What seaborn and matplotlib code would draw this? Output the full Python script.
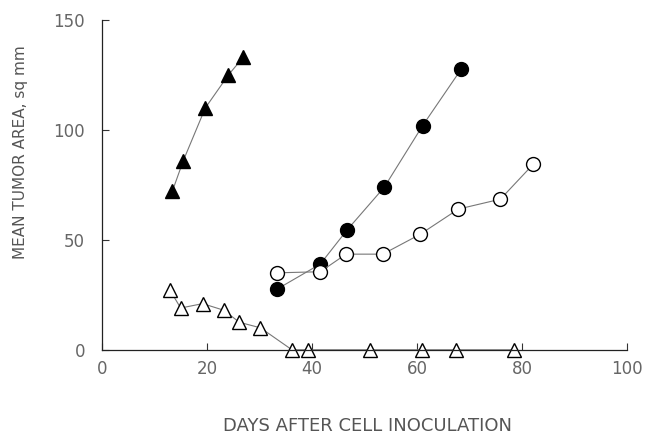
import pandas as pd
import seaborn as sns
from matplotlib import pyplot as plt

filled_tri_days = [13.4, 15.5, 19.7, 24.1, 26.9]
filled_tri_area = [72, 86, 110, 125, 133]

open_tri_days = [13.0, 15.0, 19.2, 23.2, 26.2, 30.2, 36.2, 39.2, 51.1, 61.0, 67.5, 78.5]
open_tri_area = [27, 19, 21, 18, 12.5, 10, 0, 0, 0, 0, 0, 0]

filled_circ_days = [33.3, 41.6, 46.7, 53.8, 61.1, 68.4]
filled_circ_area = [27.5, 39, 54.5, 74, 102, 127.5]

open_circ_days = [33.3, 41.6, 46.5, 53.5, 60.6, 67.9, 75.9, 82.2]
open_circ_area = [35, 35.5, 43.5, 43.5, 52.5, 64, 68.5, 84.5]

sns.set_style("ticks")
plt.rcParams['font.family'] = ['DejaVu Sans']

fig = plt.figure(figsize=(6.49, 4.34), dpi=100)
ax = fig.add_axes([0.157, 0.194, 0.809, 0.760])

line_kw = dict(color="#777777", linewidth=0.8, sort=False, clip_on=False,
               markeredgecolor="black", markeredgewidth=1.0)

sns.lineplot(x=filled_tri_days, y=filled_tri_area, marker="^", markersize=10,
             markerfacecolor="black", ax=ax, **line_kw)
sns.lineplot(x=open_tri_days, y=open_tri_area, marker="^", markersize=10,
             markerfacecolor="white", ax=ax, **line_kw)
sns.lineplot(x=filled_circ_days, y=filled_circ_area, marker="o", markersize=10,
             markerfacecolor="black", ax=ax, **line_kw)
sns.lineplot(x=open_circ_days, y=open_circ_area, marker="o", markersize=10,
             markerfacecolor="white", ax=ax, **line_kw)

ax.set_xlim(0, 100)
ax.set_ylim(0, 150)
ax.set_xticks([0, 20, 40, 60, 80, 100])
ax.set_yticks([0, 50, 100, 150])
ax.tick_params(direction="in", length=5, width=0.8, colors="#333333",
               labelcolor="#666666", labelsize=12)
ax.tick_params(axis="x", pad=7)
ax.tick_params(axis="y", pad=12)
sns.despine(ax=ax)
for s in ["left", "bottom"]:
    ax.spines[s].set_linewidth(0.9)
    ax.spines[s].set_color("#222222")

ax.set_xlabel("DAYS AFTER CELL INOCULATION", fontsize=13, color="#555555")
ax.xaxis.set_label_coords(0.505, -0.205)
ax.set_ylabel("MEAN TUMOR AREA, sq mm", fontsize=11, color="#555555")
ax.yaxis.set_label_coords(-0.14, 0.6)

fig.savefig("out.png", dpi=100)
